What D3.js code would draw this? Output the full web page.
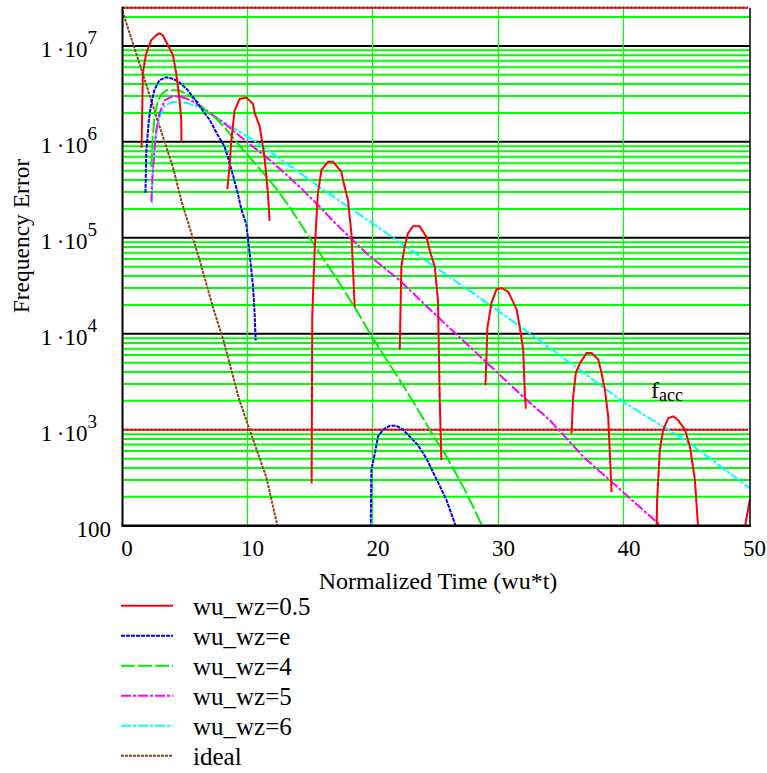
<!DOCTYPE html>
<html lang="en">
	<head>
		<meta charset="utf-8">
		<title>Frequency Error vs Normalized Time</title>
		<script type="text/javascript" src="https://cdn.jsdelivr.net/npm/d3@7"></script>
		<style type="text/css">
			body {
				margin: 0;
				background-color: #ffffff;
			}
			svg text {
				font-family: "Liberation Serif", "Times New Roman", serif;
				fill: #000000;
			}
		</style>
	</head>
	<body>
		<script type="text/javascript">

			//Width and height
			var w = 767;
			var h = 773;

			//Series data (null = break in the curve)
			var redT = [1.52, 1.62, 1.75, 1.89, 2.29, 2.69, 2.95, 3.21, 3.61, 4.01, 4.28, 4.55, 4.68, 4.70, null,
						8.35, 8.53, 8.67, 8.93, 9.33, 9.86, 10.4, 10.53, 10.93, 11.32, 11.59, 11.72, null,
						15.07, 15.12, 15.31, 15.57, 15.85, 16.38, 16.77, 17.44, 17.57, 17.97, 18.24, 18.5, null,
						22.09, 22.22, 22.49, 22.75, 23.15, 23.68, 24.22, 24.48, 24.88, 25.14, 25.28, 25.41, null,
						28.92, 29.08, 29.4, 29.8, 30.2, 30.73, 31.4, 31.66, 31.93, 32.07, 32.14, null,
						35.78, 35.91, 36.12, 36.44, 36.98, 37.38, 37.91, 38.17, 38.44, 38.7, 38.97, null,
						42.56, 42.6, 42.82, 43.08, 43.49, 43.88, 44.28, 44.82, 45.22, 45.61, 45.88, null,
						49.55, 50.0];
			var redV = [8.7e5, 5.1e6, 6.6e6, 8.3e6, 1.15e7, 1.29e7, 1.35e7, 1.29e7, 1.02e7, 8.1e6, 5.2e6, 2.7e6, 1.7e6, 1.0e6, null,
						3.2e5, 5.5e5, 1.05e6, 2.1e6, 2.8e6, 2.9e6, 2.5e6, 2.0e6, 1.45e6, 6.9e5, 2.9e5, 1.5e5, null,
						275, 1.5e4, 7.4e4, 2.9e5, 5.1e5, 6.2e5, 6.2e5, 4.9e5, 4.0e5, 2.45e5, 1.12e5, 1.9e4, null,
						6.8e3, 5.0e4, 8.1e4, 1.12e5, 1.32e5, 1.32e5, 1.02e5, 7.4e4, 5.0e4, 2.2e4, 2.0e3, 480, null,
						2.9e3, 1.17e4, 2.1e4, 2.9e4, 3.0e4, 2.75e4, 1.8e4, 1.17e4, 6.8e3, 2.2e3, 1.66e3, null,
						910, 2.2e3, 3.9e3, 4.9e3, 6.3e3, 6.3e3, 5.4e3, 3.9e3, 2.6e3, 1.38e3, 224, null,
						90, 186, 620, 1.0e3, 1.32e3, 1.38e3, 1.26e3, 1.0e3, 660, 300, 90, null,
						90, 190];

			var blueT = [1.83, 1.89, 2.1, 2.29, 2.55, 2.95, 3.48, 3.88, 4.41, 5.08, 5.74, 6.41, 6.94, 7.6, 8.13, 8.4, 8.8, 9.19, 9.46, 9.86, 10.13, 10.4, 10.53, 10.61, null,
						 19.78, 19.83, 20.1, 20.36, 20.76, 21.29, 21.82, 22.35, 22.89, 23.55, 24.22, 24.75, 25.28, 25.81, 26.6];
			var blueV = [2.95e5, 7.6e5, 1.7e6, 2.5e6, 3.5e6, 4.4e6, 4.7e6, 4.6e6, 4.3e6, 3.6e6, 2.8e6, 2.1e6, 1.7e6, 1.17e6, 8.9e5, 6.9e5, 4.5e5, 2.9e5, 2.0e5, 1.4e5, 6.9e4, 3.1e4, 1.6e4, 8.5e3, null,
						 95, 380, 560, 850, 1.0e3, 1.1e3, 1.1e3, 1.0e3, 850, 690, 500, 360, 260, 186, 95];

			var greenT = [2.29, 2.42, 2.55, 2.82, 3.09, 3.48, 4.41, 5.08, 5.88, 6.67, 7.47, 8.27, 9.07, 10.13, 11.3, 12.3, 13.3, 14.91, 16.77, 18.6, 19.96, 22.09, 23.4, 24.48, 25.81, 27.41, 28.73];
			var greenV = [5.5e5, 1.17e6, 1.8e6, 2.7e6, 3.1e6, 3.45e6, 3.45e6, 3.2e6, 2.7e6, 2.1e6, 1.75e6, 1.35e6, 1.0e6, 6.9e5, 4.6e5, 3.2e5, 2.1e5, 1.0e5, 4.3e4, 1.8e4, 8.9e3, 3.3e3, 1.74e3, 1.0e3, 525, 220, 95];

			var magentaT = [2.29, 2.42, 2.69, 2.95, 3.35, 4.01, 4.68, 5.48, 6.41, 7.74, 9.07, 10.4, 11.72, 13.18, 14.11, 15.97, 16.77, 19.43, 22.09, 24.48, 27.93, 31.93, 34.05, 36.71, 39.37, 43.08];
			var magentaV = [2.4e5, 5.1e5, 1.32e6, 2.0e6, 2.7e6, 3.0e6, 2.95e6, 2.7e6, 2.25e6, 1.7e6, 1.23e6, 8.9e5, 6.5e5, 4.4e5, 3.4e5, 1.95e5, 1.5e5, 6.9e4, 3.6e4, 1.8e4, 6.8e3, 2.2e3, 1.26e3, 525, 257, 95];

			var cyanT = [2.34, 2.42, 2.69, 2.95, 3.35, 4.01, 5.08, 6.14, 7.74, 10.4, 13.05, 15.97, 19.96, 24.88, 29.27, 33.25, 39.9, 45.22, 50];
			var cyanV = [2.3e5, 5.5e5, 1.23e6, 1.8e6, 2.4e6, 2.6e6, 2.55e6, 2.3e6, 1.7e6, 1.05e6, 6.0e5, 3.2e5, 1.4e5, 5.0e4, 2.0e4, 8.5e3, 1.95e3, 720, 245];

			var idealT = [0, 1.62, 2.29, 2.95, 4.01, 4.68, 6.14, 7.2, 8.0, 9.33, 10.13, 11.46, 12.38];
			var idealV = [2.3e7, 5.1e6, 2.7e6, 1.45e6, 5.5e5, 2.45e5, 5.9e4, 1.9e4, 8.9e3, 2.0e3, 1.0e3, 320, 95];

			var seriesNames = ["wu_wz=0.5", "wu_wz=e", "wu_wz=4", "wu_wz=5", "wu_wz=6", "ideal"];

			//Axis ticks and marker levels
			var xTicks = [0, 10, 20, 30, 40, 50];
			var yTicks = [100, 1e3, 1e4, 1e5, 1e6, 1e7];
			var fAcc = 1e3;
			var fTop = 2.5e7;

			//Plot area ("top" is taken by window, so use plotTop)
			var plotLeft = 122.5, plotRight = 750, plotTop = 7.7, plotBottom = 525.7;
			var serif = "Liberation Serif";

			//Scales
			var xScale = d3.scaleLinear()
						   .domain([0, 50])
						   .range([plotLeft, plotRight]);

			var yScale = d3.scaleLog()
						   .domain([100, fTop])
						   .range([plotBottom, plotTop]);

			//Create SVG element
			var svg = d3.select("body")
						.append("svg")
						.attr("width", w)
						.attr("height", h);

			svg.append("clipPath")
			   .attr("id", "plotclip")
			   .append("rect")
			   .attr("x", plotLeft)
			   .attr("y", plotTop - 2)
			   .attr("width", plotRight - plotLeft)
			   .attr("height", plotBottom - plotTop + 2);

			//Horizontal grid: green minor lines, black decades
			var gridVals = yScale.ticks().filter(function(v) { return v > 100 && v < fTop && v != fAcc; });
			svg.selectAll("line.hgrid")
			   .data(gridVals)
			   .enter()
			   .append("line")
			   .attr("class", "hgrid")
			   .attr("x1", plotLeft)
			   .attr("x2", plotRight)
			   .attr("y1", function(d) { return yScale(d); })
			   .attr("y2", function(d) { return yScale(d); })
			   .attr("stroke", function(d) {
					var e = Math.log10(d);
					return Math.abs(e - Math.round(e)) < 1e-9 ? "#000000" : "#00ff00";
			   })
			   .attr("stroke-width", 2);

			//Vertical grid, snapped to whole pixels so the 1px lines stay crisp
			svg.selectAll("line.vgrid")
			   .data(xScale.ticks(5).filter(function(t) { return t > 0 && t < 50; }))
			   .enter()
			   .append("line")
			   .attr("class", "vgrid")
			   .attr("x1", function(d) { return Math.floor(xScale(d)) - 0.5; })
			   .attr("x2", function(d) { return Math.floor(xScale(d)) - 0.5; })
			   .attr("y1", plotTop)
			   .attr("y2", plotBottom)
			   .attr("stroke", "#00ff00")
			   .attr("stroke-width", 1.2);

			//Red marker lines (f_acc and top)
			[fAcc, fTop].forEach(function(v) {
				svg.append("line")
				   .attr("x1", plotLeft).attr("x2", plotRight - 2)
				   .attr("y1", yScale(v)).attr("y2", yScale(v))
				   .attr("stroke", "#ff2020")
				   .attr("stroke-width", 2);
				svg.append("line")
				   .attr("x1", plotLeft).attr("x2", plotRight - 2)
				   .attr("y1", yScale(v)).attr("y2", yScale(v))
				   .attr("stroke", "#c00000")
				   .attr("stroke-width", 2)
				   .attr("stroke-dasharray", "2,2");
			});

			//Series
			var series = [
				{ t: idealT, v: idealV, color: "#8b4513", dash: "3,1" },
				{ t: cyanT, v: cyanV, color: "#00ffff", dash: "10,2,3,2" },
				{ t: magentaT, v: magentaV, color: "#ff00ff", dash: "10,2,3,2" },
				{ t: greenT, v: greenV, color: "#00ee00", dash: "14,3" },
				{ t: blueT, v: blueV, color: "#0000ff", dash: "4,1" },
				{ t: redT, v: redV, color: "#ff0000", dash: null }
			];

			var line = d3.line()
						 .defined(function(d) { return d.v != null; })
						 .x(function(d) { return xScale(d.t); })
						 .y(function(d) { return yScale(d.v); });

			var plot = svg.append("g").attr("clip-path", "url(#plotclip)");
			series.forEach(function(s) {
				var pts = s.t.map(function(t, i) { return { t: t, v: s.v[i] }; });
				plot.append("path")
					.datum(pts)
					.attr("d", line)
					.attr("fill", "none")
					.attr("stroke", s.color)
					.attr("stroke-width", 2)
					.attr("stroke-dasharray", s.dash);
			});

			//Frame
			svg.append("line").attr("x1", plotLeft).attr("x2", plotLeft).attr("y1", plotTop - 1).attr("y2", plotBottom)
			   .attr("stroke", "#000").attr("stroke-width", 2);
			svg.append("line").attr("x1", plotRight).attr("x2", plotRight).attr("y1", plotTop).attr("y2", plotBottom)
			   .attr("stroke", "#000").attr("stroke-width", 1.5);
			svg.append("line").attr("x1", plotLeft - 1).attr("x2", plotRight + 1).attr("y1", plotBottom).attr("y2", plotBottom)
			   .attr("stroke", "#000").attr("stroke-width", 2.5);

			//X axis labels
			var xAxis = d3.axisBottom(xScale)
						  .tickValues(xTicks)
						  .tickSize(0)
						  .tickFormat(d3.format("d"));
			var gx = svg.append("g")
						.attr("transform", "translate(4," + plotBottom + ")")
						.call(xAxis);
			gx.select(".domain").remove();
			gx.attr("font-family", serif).attr("font-size", 23);
			gx.selectAll("text")
			  .attr("y", 30)
			  .attr("dy", null);

			//Y axis labels, 1·10^n form
			var yAxis = d3.axisLeft(yScale)
						  .tickValues(yTicks)
						  .tickSize(0);
			var gy = svg.append("g")
						.call(yAxis);
			gy.select(".domain").remove();
			gy.attr("font-family", serif).attr("font-size", 23);
			gy.selectAll("text")
			  .attr("dy", 11)
			  .each(function(d) {
					var t = d3.select(this).text("");
					var e = Math.round(Math.log10(d));
					if (e <= 2) {
						t.attr("x", 111).text(d);
					} else {
						t.attr("x", 97);
						t.append("tspan").text("1\u2009\u00b710");
						t.append("tspan").attr("dy", -13).attr("font-size", 19).text(e);
					}
			  });

			//Axis titles
			svg.append("text")
			   .attr("x", 438)
			   .attr("y", 589)
			   .attr("text-anchor", "middle")
			   .attr("font-family", serif)
			   .attr("font-size", 24)
			   .text("Normalized Time (wu*t)");

			svg.append("text")
			   .attr("transform", "translate(28.5,236) rotate(-90)")
			   .attr("text-anchor", "middle")
			   .attr("font-family", serif)
			   .attr("font-size", 23.5)
			   .text("Frequency Error");

			//f_acc label
			var fl = svg.append("text")
						.attr("x", 651)
						.attr("y", 398)
						.attr("font-family", serif)
						.attr("font-size", 24);
			fl.append("tspan").text("f");
			fl.append("tspan").attr("dy", 3).attr("font-size", 18).text("acc");

			//Legend
			var legend = svg.selectAll("g.legend")
							.data(seriesNames)
							.enter()
							.append("g")
							.attr("class", "legend")
							.attr("transform", function(d, i) { return "translate(0," + (605.7 + i * 30) + ")"; });

			var legendStyle = [series[5], series[4], series[3], series[2], series[1], series[0]];

			legend.append("line")
				  .attr("x1", 121)
				  .attr("x2", 173)
				  .attr("stroke", function(d, i) { return legendStyle[i].color; })
				  .attr("stroke-width", 2)
				  .attr("stroke-dasharray", function(d, i) { return legendStyle[i].dash; });

			legend.append("text")
				  .attr("x", 193)
				  .attr("y", 9.5)
				  .attr("font-family", serif)
				  .attr("font-size", 25)
				  .text(function(d) { return d; });

		</script>
	</body>
</html>
